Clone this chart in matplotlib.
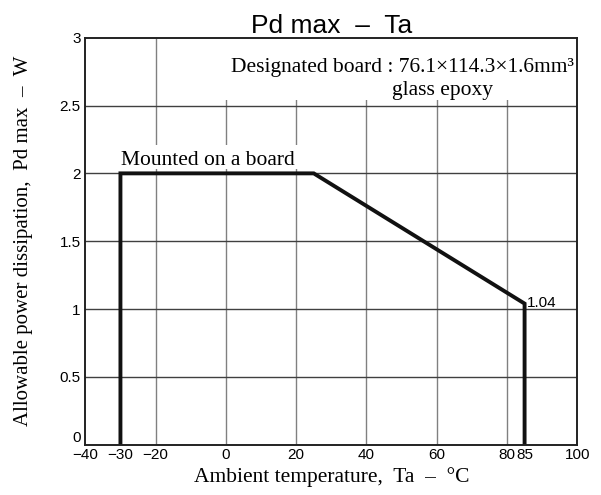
import matplotlib
matplotlib.use("Agg")
import matplotlib.pyplot as plt
from matplotlib.patches import Rectangle

# Data
ta = [-30, -30, 25, 85, 85]
pd_max = [0, 2.0, 2.0, 1.04, 0]
x_ticks = [-40, -30, -20, 0, 20, 40, 60, 80, 85, 100]
x_tick_labels = ["\u221240", "\u221230", "\u221220", "0", "20", "40", "60", "80", "85", "100"]
x_grid = [-20, 0, 20, 40, 60, 80]
y_ticks = [0, 0.5, 1, 1.5, 2, 2.5, 3]
y_tick_labels = ["0", "0.5", "1", "1.5", "2", "2.5", "3"]

W, H = 601, 495
fig = plt.figure(figsize=(W / 100, H / 100), dpi=100)
ax = fig.add_axes([85.3 / W, 1 - 444.7 / H, 492 / W, 407 / H])
ax.set_xlim(-40, 100)
ax.set_ylim(0, 3)

for xv in x_grid:
    ax.axvline(xv, color="#808080", lw=1.0, zorder=1)
for yv in y_ticks[1:-1]:
    ax.axhline(yv, color="#404040", lw=1.0, zorder=1)

# white backgrounds behind the annotations (grid is interrupted there)
ax.add_patch(Rectangle((-1.1, 2.54), 101.1, 0.46, facecolor="white", edgecolor="none", zorder=2))
ax.add_patch(Rectangle((-31, 2.03), 52.1, 0.18, facecolor="white", edgecolor="none", zorder=2))

ax.plot(ta, pd_max, color="#111111", lw=2.8, zorder=3, solid_joinstyle="miter")

ax.set_xticks(x_ticks)
ax.set_xticklabels(x_tick_labels)
ax.set_yticks(y_ticks)
ax.set_yticklabels(y_tick_labels)
ax.tick_params(axis="x", length=0, labelsize=11, pad=2.3)
ax.tick_params(axis="y", length=0, labelsize=11, pad=3.3)
for lab in ax.get_xticklabels() + ax.get_yticklabels():
    lab.set_family("Liberation Sans")
ax.get_yticklabels()[0].set_va("bottom")

for s in ax.spines.values():
    s.set_linewidth(1.4)
    s.set_color("#222222")
    s.set_zorder(4)

serif = "Liberation Serif"
fs = 15.5
ax.text(-29.8, 2.061, "Mounted on a board", family=serif, fontsize=fs,
        ha="left", va="baseline", zorder=3)
ax.text(99.1, 2.749, "Designated board : 76.1\u00d7114.3\u00d71.6mm\u00b3", family=serif,
        fontsize=fs, ha="right", va="baseline", zorder=3)
ax.text(61.5, 2.577, "glass epoxy", family=serif, fontsize=fs, ha="center", va="baseline",
        zorder=3)
ax.text(85.6, 1.015, "1.04", family="Liberation Sans", fontsize=11, ha="left",
        va="baseline", zorder=3)

ax.set_title("Pd max  \u2013  Ta", family="Liberation Sans", fontsize=19, pad=1)
ax.set_xlabel("Ambient temperature,  Ta  \u2013  \u00b0C", family=serif, fontsize=fs, labelpad=4)
ax.set_ylabel("Allowable power dissipation,  Pd max  \u2013  W", family=serif, fontsize=15, labelpad=19)

fig.savefig("out.png", dpi=100)
